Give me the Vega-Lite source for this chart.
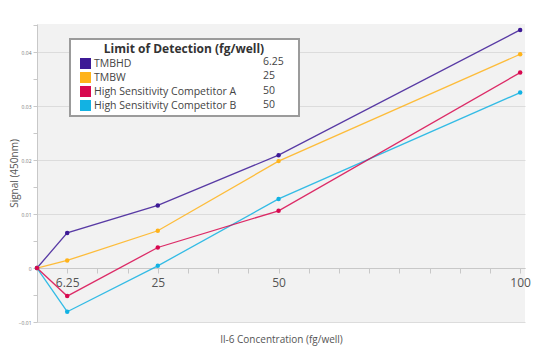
{
  "$schema": "https://vega.github.io/schema/vega-lite/v6.json",
  "width": 488,
  "height": 298,
  "autosize": {"type": "none"},
  "padding": {"left": 37, "top": 24, "right": 15, "bottom": 38},
  "background": "white",
  "config": {
    "view": {"fill": "#f2f2f2", "stroke": null},
    "font": "Open Sans",
    "legend": {"strokeWidth": 2}
  },
  "data": {
    "values": [
      {"series": "TMBHD", "entry": "TMBHD|6.25", "conc": 0, "signal": 0},
      {"series": "TMBHD", "entry": "TMBHD|6.25", "conc": 6.25, "signal": 0.0065},
      {"series": "TMBHD", "entry": "TMBHD|6.25", "conc": 25, "signal": 0.0116},
      {"series": "TMBHD", "entry": "TMBHD|6.25", "conc": 50, "signal": 0.0209},
      {"series": "TMBHD", "entry": "TMBHD|6.25", "conc": 100, "signal": 0.0441},
      {"series": "TMBW", "entry": "TMBW|25", "conc": 0, "signal": 0},
      {"series": "TMBW", "entry": "TMBW|25", "conc": 6.25, "signal": 0.0014},
      {"series": "TMBW", "entry": "TMBW|25", "conc": 25, "signal": 0.0069},
      {"series": "TMBW", "entry": "TMBW|25", "conc": 50, "signal": 0.0198},
      {"series": "TMBW", "entry": "TMBW|25", "conc": 100, "signal": 0.0396},
      {"series": "High Sensitivity Competitor B", "entry": "B|50", "conc": 0, "signal": 0},
      {"series": "High Sensitivity Competitor B", "entry": "B|50", "conc": 6.25, "signal": -0.0081},
      {"series": "High Sensitivity Competitor B", "entry": "B|50", "conc": 25, "signal": 0.0004},
      {"series": "High Sensitivity Competitor B", "entry": "B|50", "conc": 50, "signal": 0.0128},
      {"series": "High Sensitivity Competitor B", "entry": "B|50", "conc": 100, "signal": 0.0325},
      {"series": "High Sensitivity Competitor A", "entry": "A|50", "conc": 0, "signal": 0},
      {"series": "High Sensitivity Competitor A", "entry": "A|50", "conc": 6.25, "signal": -0.0052},
      {"series": "High Sensitivity Competitor A", "entry": "A|50", "conc": 25, "signal": 0.0038},
      {"series": "High Sensitivity Competitor A", "entry": "A|50", "conc": 50, "signal": 0.0106},
      {"series": "High Sensitivity Competitor A", "entry": "A|50", "conc": 100, "signal": 0.0362}
    ]
  },
  "encoding": {
    "x": {
      "field": "conc",
      "type": "quantitative",
      "scale": {"domain": [0, 101], "nice": false, "zero": false},
      "axis": {
        "title": "Il-6 Concentration (fg/well)",
        "offset": -54,
        "values": [0, 6.25, 12.5, 18.75, 25, 31.25, 37.5, 43.75, 50, 56.25, 62.5, 68.75, 75, 81.25, 87.5, 93.75, 100],
        "labelExpr": "indexof([6.25, 25, 50, 100], datum.value) >= 0 ? '' + datum.value : ''",
        "labelOverlap": false,
        "labelFlush": false,
        "labelFontSize": 12,
        "labelColor": "#555555",
        "labelPadding": 4,
        "tickColor": "#c8c8c8",
        "tickSize": 5,
        "domainColor": "#c8c8c8",
        "grid": false,
        "titleFontSize": 10,
        "titleColor": "#555555",
        "titleFontWeight": "normal",
        "titlePadding": 46
      }
    },
    "y": {
      "field": "signal",
      "type": "quantitative",
      "scale": {"domain": [-0.01, 0.0452], "nice": false, "zero": false},
      "axis": {
        "title": "Signal (450nm)",
        "titleX": -23,
        "titleBaseline": "middle",
        "values": [-0.01, -0.005, 0, 0.005, 0.01, 0.015, 0.02, 0.025, 0.03, 0.035, 0.04, 0.045],
        "labelExpr": "abs(datum.value * 100 - round(datum.value * 100)) < 0.01 ? format(datum.value, '.2~f') : ''",
        "gridOpacity": {"condition": {"test": "abs(datum.value * 100 - round(datum.value * 100)) < 0.01", "value": 1}, "value": 0},
        "gridColor": "#dcdcdc",
        "domainColor": "#c8c8c8",
        "tickColor": "#c8c8c8",
        "tickSize": 4,
        "labelFontSize": 5,
        "labelColor": "#777777",
        "labelPadding": 2,
        "labelOverlap": false,
        "titleFontSize": 10,
        "titleColor": "#555555",
        "titleFontWeight": "normal"
      }
    },
    "color": {
      "field": "series",
      "type": "nominal",
      "scale": {
        "domain": ["TMBHD", "TMBW", "High Sensitivity Competitor A", "High Sensitivity Competitor B"],
        "range": ["#3d1a96", "#ffb31a", "#d8084f", "#12b2e3"]
      },
      "legend": {
        "title": "Limit of Detection (fg/well)",
        "orient": "none",
        "legendX": 33,
        "legendY": 15,
        "direction": "vertical",
        "fillColor": "white",
        "strokeColor": "#9b9b9b",
        "padding": 5,
        "symbolOffset": 5,
        "symbolType": "square",
        "symbolSize": 121,
        "symbolStrokeWidth": 0,
        "symbolOpacity": 1,
        "labelFontSize": 10.5,
        "labelColor": "#444444",
        "labelOffset": 3,
        "labelLimit": 400,
        "labelExpr": "datum.label + '\u00a0\u00a0\u00a0\u00a0\u00a0\u00a0\u00a0\u00a0\u00a0\u00a0\u00a0\u00a0\u00a0\u00a0\u00a0\u00a0\u00a0\u00a0\u00a0\u00a0\u00a0\u200b'",
        "rowPadding": 3,
        "titleFontSize": 12,
        "titleFontWeight": "bold",
        "titleColor": "#333333",
        "titleAnchor": "middle",
        "titlePadding": 2,
        "encode": {
          "symbols": {
            "update": {
              "fill": {"scale": "color", "field": "value"},
              "stroke": {"value": "transparent"},
              "opacity": {"value": 1}
            }
          }
        }
      }
    }
  },
  "layer": [
    {
      "mark": {"type": "line", "strokeWidth": 1.3, "opacity": 0.85}
    },
    {
      "mark": {"type": "point", "filled": true, "size": 20, "opacity": 1},
      "encoding": {
        "shape": {
          "field": "entry",
          "type": "nominal",
          "scale": {
            "domain": ["TMBHD|6.25", "TMBW|25", "A|50", "B|50"],
            "range": ["circle", "circle", "circle", "circle"]
          },
          "legend": {
            "title": null,
            "orient": "none",
            "legendX": 212,
            "legendY": 32,
            "padding": 0,
            "symbolType": "square",
            "symbolSize": 121,
            "symbolOpacity": 0,
            "symbolStrokeWidth": 0,
            "labelFontSize": 10.5,
            "labelColor": "#444444",
            "labelOffset": 3,
            "labelExpr": "split(datum.label, '|')[1]",
            "rowPadding": 3.5
          }
        }
      }
    }
  ]
}
